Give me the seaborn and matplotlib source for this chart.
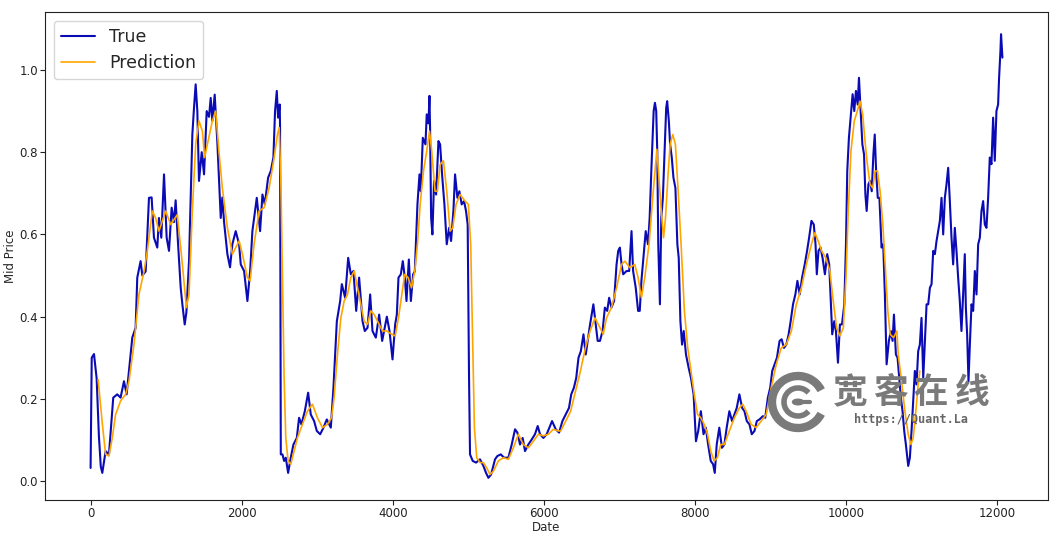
import numpy as np
import pandas as pd
import matplotlib
matplotlib.use("Agg")
import matplotlib.pyplot as plt
from matplotlib.patches import Arc, Circle
import seaborn as sns

# values
true_x = [0, 15, 45, 80, 110, 135, 155, 199, 243, 300, 353, 397, 442, 477, 508, 552, 596, 618, 662, 685,
          729, 773, 808, 839, 883, 905, 936, 972, 1007, 1038, 1073, 1104, 1126, 1157, 1193, 1215, 1246, 1268,
          1303, 1347, 1369, 1391, 1413, 1435, 1471, 1502, 1537, 1568, 1590, 1612, 1643, 1679, 1701, 1723,
          1744, 1767, 1811, 1846, 1877, 1921, 1966, 1988, 2032, 2076, 2112, 2142, 2200, 2244, 2275, 2306,
          2350, 2385, 2420, 2442, 2465, 2482, 2504, 2508, 2518, 2540, 2562, 2584, 2615, 2650, 2685, 2730,
          2760, 2791, 2836, 2880, 2915, 2959, 2995, 3039, 3083, 3127, 3180, 3215, 3260, 3304, 3326, 3370,
          3410, 3445, 3480, 3516, 3555, 3600, 3630, 3666, 3701, 3732, 3776, 3820, 3860, 3922, 3957, 3997,
          4032, 4054, 4076, 4107, 4133, 4160, 4182, 4213, 4240, 4270, 4292, 4327, 4354, 4371, 4398, 4433,
          4450, 4473, 4486, 4494, 4508, 4525, 4547, 4574, 4605, 4627, 4653, 4684, 4715, 4746, 4772, 4803,
          4825, 4856, 4882, 4913, 4944, 4970, 4992, 5010, 5023, 5059, 5103, 5155, 5200, 5235, 5266, 5302,
          5354, 5385, 5430, 5474, 5531, 5575, 5619, 5650, 5685, 5720, 5751, 5795, 5839, 5883, 5919, 5950,
          5994, 6038, 6073, 6109, 6158, 6202, 6246, 6289, 6333, 6363, 6398, 6429, 6459, 6490, 6525, 6555,
          6581, 6612, 6656, 6682, 6713, 6743, 6778, 6808, 6839, 6865, 6895, 6930, 6963, 6985, 7007, 7029,
          7051, 7095, 7130, 7161, 7182, 7217, 7248, 7270, 7292, 7322, 7349, 7379, 7401, 7423, 7454, 7471,
          7488, 7502, 7515, 7537, 7555, 7576, 7598, 7620, 7633, 7655, 7672, 7694, 7716, 7742, 7768, 7786,
          7808, 7830, 7852, 7882, 7917, 7948, 7983, 8014, 8044, 8079, 8114, 8145, 8175, 8210, 8241, 8263,
          8289, 8323, 8358, 8390, 8421, 8456, 8492, 8523, 8554, 8589, 8625, 8656, 8687, 8722, 8753, 8789,
          8820, 8855, 8900, 8931, 8966, 8997, 9024, 9055, 9086, 9121, 9148, 9179, 9210, 9241, 9268, 9299,
          9330, 9357, 9388, 9419, 9454, 9485, 9512, 9543, 9574, 9597, 9614, 9636, 9663, 9690, 9721, 9752,
          9778, 9800, 9818, 9845, 9867, 9894, 9920, 9947, 9978, 10000, 10017, 10039, 10062, 10088, 10110,
          10132, 10155, 10172, 10194, 10217, 10239, 10257, 10274, 10297, 10319, 10341, 10363, 10381, 10399,
          10421, 10443, 10471, 10493, 10515, 10538, 10568, 10595, 10617, 10635, 10661, 10683, 10705, 10727,
          10749, 10771, 10793, 10824, 10846, 10868, 10890, 10912, 10934, 10956, 10978, 11000, 11023, 11045,
          11067, 11089, 11111, 11133, 11155, 11177, 11199, 11221, 11243, 11265, 11287, 11309, 11331, 11353,
          11375, 11397, 11419, 11441, 11463, 11485, 11507, 11529, 11551, 11573, 11587, 11604, 11622, 11640,
          11662, 11684, 11706, 11728, 11750, 11772, 11794, 11816, 11838, 11860, 11882, 11904, 11926, 11948,
          11970, 11992, 12014, 12027, 12045, 12053, 12071]
true_y = [0.032, 0.300, 0.309, 0.250, 0.110, 0.035, 0.020, 0.073, 0.065, 0.203, 0.211, 0.203, 0.243, 0.211,
          0.268, 0.349, 0.373, 0.495, 0.535, 0.500, 0.510, 0.689, 0.690, 0.592, 0.568, 0.640, 0.592, 0.746,
          0.592, 0.560, 0.665, 0.630, 0.683, 0.580, 0.470, 0.430, 0.381, 0.410, 0.535, 0.843, 0.908, 0.965,
          0.900, 0.730, 0.800, 0.746, 0.900, 0.886, 0.932, 0.876, 0.940, 0.820, 0.730, 0.640,
          0.690, 0.630, 0.552, 0.520, 0.576, 0.608, 0.576, 0.527, 0.511, 0.438, 0.511, 0.608, 0.689, 0.608,
          0.697, 0.673, 0.738, 0.754, 0.787, 0.900, 0.949, 0.884, 0.916, 0.860, 0.065, 0.065, 0.049, 0.057,
          0.020, 0.057, 0.089, 0.105, 0.154, 0.138, 0.170, 0.215, 0.162, 0.146, 0.122, 0.114, 0.130, 0.150,
          0.130, 0.227, 0.389, 0.438, 0.479, 0.446, 0.543, 0.503, 0.511, 0.414, 0.495, 0.389, 0.365, 0.373,
          0.454, 0.365, 0.349, 0.405, 0.341, 0.400, 0.365, 0.296, 0.381, 0.405, 0.495, 0.503, 0.535, 0.495,
          0.438, 0.539, 0.438, 0.503, 0.510, 0.673, 0.746, 0.705, 0.835, 0.819, 0.892, 0.870, 0.937, 0.860,
          0.641, 0.600, 0.730, 0.697, 0.827, 0.819, 0.746, 0.673, 0.576, 0.616, 0.584, 0.657, 0.746, 0.689,
          0.705, 0.673, 0.681, 0.657, 0.624, 0.251, 0.065, 0.049, 0.045, 0.053, 0.037, 0.020, 0.008, 0.016,
          0.053, 0.061, 0.065, 0.057, 0.057, 0.089, 0.126, 0.118, 0.089, 0.105, 0.073, 0.089, 0.101, 0.114,
          0.134, 0.114, 0.105, 0.114, 0.130, 0.146, 0.126, 0.118, 0.146, 0.162, 0.178, 0.211, 0.227, 0.251,
          0.300, 0.316, 0.357, 0.308, 0.341, 0.381, 0.430, 0.389, 0.341, 0.341, 0.365, 0.422, 0.414, 0.446,
          0.422, 0.438, 0.527, 0.560, 0.568, 0.527, 0.503, 0.511, 0.511, 0.608, 0.511, 0.470, 0.414, 0.414,
          0.487, 0.552, 0.608, 0.576, 0.640, 0.754, 0.900, 0.920, 0.900, 0.800, 0.576, 0.430, 0.640, 0.689,
          0.795, 0.908, 0.924, 0.876, 0.819, 0.787, 0.738, 0.713, 0.576, 0.543, 0.389, 0.332, 0.365, 0.308,
          0.276, 0.251, 0.211, 0.097, 0.122, 0.170, 0.114, 0.130, 0.089, 0.049, 0.041, 0.020, 0.089, 0.130,
          0.081, 0.089, 0.130, 0.170, 0.146, 0.162, 0.178, 0.211, 0.178, 0.170, 0.146, 0.138, 0.114, 0.122,
          0.146, 0.150, 0.158, 0.154, 0.203, 0.227, 0.268, 0.284, 0.300, 0.341, 0.345, 0.324, 0.332, 0.357,
          0.389, 0.430, 0.454, 0.487, 0.454, 0.495, 0.527, 0.560, 0.592, 0.633, 0.624, 0.576, 0.503, 0.560,
          0.568, 0.543, 0.503, 0.552, 0.527, 0.430, 0.357, 0.389, 0.365, 0.288, 0.381, 0.381, 0.430, 0.576,
          0.754, 0.835, 0.884, 0.941, 0.900, 0.949, 0.916, 0.981, 0.900, 0.819, 0.795, 0.697, 0.657, 0.722,
          0.730, 0.705, 0.795, 0.843, 0.754, 0.689, 0.689, 0.568, 0.576, 0.454, 0.284, 0.341, 0.365, 0.341,
          0.405, 0.308, 0.300, 0.251, 0.203, 0.170, 0.122, 0.089, 0.037, 0.057, 0.122, 0.195, 0.268, 0.235,
          0.316, 0.332, 0.397, 0.251, 0.341, 0.430, 0.430, 0.470, 0.479, 0.560, 0.552, 0.584, 0.608, 0.633,
          0.689, 0.600, 0.689, 0.722, 0.762, 0.681, 0.592, 0.527, 0.616, 0.560, 0.495, 0.438, 0.365, 0.454,
          0.552, 0.422, 0.357, 0.243, 0.332, 0.430, 0.414, 0.511, 0.454, 0.576, 0.592, 0.657, 0.681, 0.624,
          0.616, 0.689, 0.787, 0.771, 0.884, 0.779, 0.900, 0.916, 0.981, 1.046, 1.087, 1.030]

pred_x = [100, 155, 199, 243, 287, 331, 397, 464, 508, 574, 640, 707, 751, 817, 861, 905, 994, 1060, 1148,
          1215, 1268, 1303, 1347, 1391, 1435, 1480, 1510, 1546, 1612, 1656, 1700, 1744, 1811, 1877, 1921,
          1966, 2010, 2076, 2112, 2164, 2231, 2297, 2363, 2430, 2474, 2496, 2518, 2540, 2562, 2584, 2615,
          2650, 2694, 2738, 2804, 2871, 2937, 3003, 3070, 3136, 3189, 3224, 3268, 3313, 3357, 3401, 3445,
          3490, 3534, 3578, 3622, 3666, 3710, 3754, 3799, 3865, 3922, 3988, 4032, 4076, 4120, 4160, 4204,
          4248, 4292, 4327, 4363, 4407, 4450, 4486, 4516, 4560, 4591, 4627, 4671, 4715, 4759, 4794, 4838,
          4891, 4957, 5001, 5032, 5059, 5081, 5112, 5155, 5200, 5244, 5288, 5332, 5398, 5465, 5531, 5597,
          5663, 5729, 5795, 5861, 5928, 5994, 6060, 6126, 6192, 6224, 6289, 6355, 6420, 6485, 6551, 6612,
          6678, 6743, 6787, 6830, 6895, 6963, 7029, 7073, 7139, 7204, 7248, 7292, 7336, 7393, 7445, 7497,
          7524, 7555, 7585, 7611, 7642, 7672, 7707, 7742, 7773, 7817, 7861, 7905, 7948, 7992, 8035, 8079,
          8123, 8167, 8210, 8254, 8298, 8342, 8390, 8456, 8523, 8589, 8634, 8678, 8744, 8811, 8877, 8944,
          9010, 9077, 9143, 9210, 9277, 9343, 9410, 9476, 9543, 9588, 9632, 9676, 9734, 9787, 9831, 9876,
          9920, 9965, 10000, 10030, 10066, 10110, 10150, 10186, 10221, 10252, 10283, 10319, 10354, 10385,
          10417, 10452, 10488, 10519, 10554, 10585, 10630, 10674, 10692, 10736, 10780, 10824, 10859, 10890,
          10925, 10956, 10978]
pred_y = [0.247, 0.140, 0.065, 0.061, 0.105, 0.162, 0.195, 0.211, 0.243, 0.332, 0.454, 0.510, 0.560, 0.657,
          0.640, 0.608, 0.657, 0.624, 0.648, 0.527, 0.422, 0.454, 0.657, 0.819, 0.876, 0.851, 0.787, 0.819,
          0.876, 0.900, 0.800, 0.713, 0.616, 0.552, 0.568, 0.584, 0.552, 0.495, 0.487, 0.576, 0.657, 0.665,
          0.713, 0.787, 0.843, 0.860, 0.738, 0.495, 0.251, 0.105, 0.049, 0.041, 0.073, 0.105, 0.138, 0.170,
          0.187, 0.154, 0.130, 0.138, 0.154, 0.203, 0.308, 0.397, 0.438, 0.454, 0.495, 0.511, 0.470, 0.430,
          0.389, 0.381, 0.414, 0.405, 0.389, 0.365, 0.365, 0.357, 0.353, 0.397, 0.454, 0.503, 0.495, 0.470,
          0.511, 0.576, 0.673, 0.754, 0.803, 0.851, 0.803, 0.705, 0.705, 0.770, 0.779, 0.705, 0.608, 0.616,
          0.673, 0.697, 0.681, 0.673, 0.576, 0.332, 0.130, 0.057, 0.045, 0.045, 0.032, 0.016, 0.024, 0.049,
          0.057, 0.053, 0.081, 0.114, 0.089, 0.081, 0.097, 0.114, 0.110, 0.114, 0.126, 0.122, 0.122, 0.146,
          0.170, 0.219, 0.268, 0.324, 0.365, 0.397, 0.373, 0.357, 0.397, 0.422, 0.470, 0.527, 0.535, 0.519,
          0.527, 0.495, 0.446, 0.495, 0.576, 0.697, 0.807, 0.738, 0.657, 0.592, 0.640, 0.738, 0.819, 0.843,
          0.819, 0.722, 0.576, 0.414, 0.324, 0.268, 0.211, 0.162, 0.154, 0.138, 0.114, 0.073, 0.049, 0.057,
          0.089, 0.089, 0.122, 0.154, 0.178, 0.187, 0.170, 0.138, 0.130, 0.146, 0.162, 0.227, 0.284, 0.324,
          0.332, 0.365, 0.430, 0.470, 0.527, 0.576, 0.604, 0.584, 0.560, 0.543, 0.511, 0.438, 0.373, 0.353,
          0.373, 0.495, 0.657, 0.803, 0.876, 0.900, 0.924, 0.892, 0.827, 0.770, 0.722, 0.713, 0.754, 0.754,
          0.705, 0.624, 0.527, 0.414, 0.357, 0.349, 0.365, 0.308, 0.243, 0.170, 0.114, 0.089, 0.105, 0.170,
          0.235, 0.268]

true_df = pd.DataFrame({"Date": true_x, "Mid Price": true_y})
pred_df = pd.DataFrame({"Date": pred_x, "Mid Price": pred_y})

sns.set_style("ticks")
plt.rcParams["font.family"] = ["DejaVu Sans"]

fig = plt.figure(figsize=(10.6, 5.38), dpi=100)
ax = fig.add_axes([45 / 1060, 38 / 538, 1003 / 1060, 488 / 538])

sns.lineplot(data=true_df, x="Date", y="Mid Price", ax=ax, color="#0b0bb5", lw=1.5,
             label="True", estimator=None, sort=False)
sns.lineplot(data=pred_df, x="Date", y="Mid Price", ax=ax, color="orange", lw=1.2,
             label="Prediction", estimator=None, sort=False)

ax.set_xlabel("Date", fontsize=8.5, labelpad=1)
ax.set_ylabel("Mid Price", fontsize=8.5, labelpad=2)
ax.tick_params(labelsize=8.5, length=3.5, width=0.8, pad=1.5, colors="#222222")
for sp in ax.spines.values():
    sp.set_color("#222222")
    sp.set_linewidth(0.8)
ax.legend(loc="upper left", fontsize=12.5, frameon=True)

# watermark
gray = "#7a7a7a"
W, H = 1060, 538
cx, cy = 798 / W, 1 - 402 / H
ring = Arc((cx, cy), 52 / W, 52 / H, theta1=45, theta2=315, lw=6, color=gray,
           transform=fig.transFigure, zorder=5)
inner = Arc((cx, cy), 28 / W, 28 / H, theta1=60, theta2=300, lw=4, color=gray,
            transform=fig.transFigure, zorder=5)
dot = Circle((cx, cy), 5.5 / W, color=gray, transform=fig.transFigure, zorder=5)
fig.patches.extend([ring, inner])
fig.add_artist(dot)
fig.lines.append(plt.Line2D([cx, cx + 12 / W], [cy, cy], color=gray, lw=3,
                            transform=fig.transFigure, zorder=5))
for ch, px in zip("宽客在线", [850, 890, 931, 972]):
    fig.text(px / W, 1 - 393 / H, ch, ha="center", va="center", fontsize=25,
             color=gray, family=["Noto Sans CJK SC", "DejaVu Sans"], fontweight="bold", zorder=6)
fig.text(911 / W, 1 - 420 / H, "https://Quant.La", ha="center", va="center",
         fontsize=8.5, color="#666666", family=["DejaVu Sans Mono"], fontweight="bold", zorder=6)

fig.savefig("out.png", dpi=100)
